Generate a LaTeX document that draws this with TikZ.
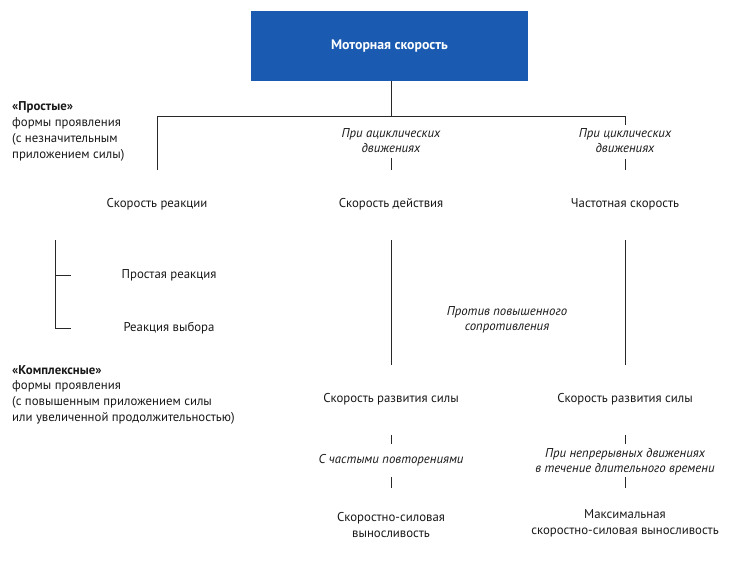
\documentclass[tikz,border=0pt]{standalone}
\usepackage{fontspec}
\setmainfont{PT Sans}
\definecolor{boxblue}{RGB}{26,90,176}
\definecolor{txt}{RGB}{25,25,25}
\definecolor{ln}{RGB}{40,40,40}
\begin{document}
\begin{tikzpicture}[x=1pt,y=-1pt,
  lbl/.style={inner sep=0pt,font=\fontsize{12.8}{15.8}\selectfont,text=txt,align=center},
  ital/.style={lbl,font=\fontsize{12.8}{15}\selectfont\itshape},
  side/.style={inner sep=0pt,font=\fontsize{12.8}{15.8}\selectfont,text=txt,align=left,anchor=north west},
  conn/.style={draw=ln,line width=0.8pt}]
\useasboundingbox (0,0) rectangle (744,564);
% top box
\node[fill=boxblue,minimum width=277pt,minimum height=70pt,inner sep=0pt,
  text=white,font=\fontsize{13.8}{16}\selectfont\bfseries] (top) at (389.5,46) {Моторная скорость};
% hub coordinates
\coordinate (hub) at (391,116);
\coordinate (hl) at (157,116);
\coordinate (hr) at (625,116);
\coordinate (l1) at (157,170);
\coordinate (mA) at (391,158);
\coordinate (mB) at (391,170);
\coordinate (rA) at (625,125);
\coordinate (rB) at (625,159);
\coordinate (rC) at (625,170);
\draw[conn] (top.south -| hub) -- (hub);
\draw[conn] (hl) -- (hr);
\draw[conn] (hl) -- (l1);
\draw[conn] (hr) -- (rA);
\draw[conn] (mA) -- (mB);
\draw[conn] (rB) -- (rC);
% italic branch labels
\node[ital] (acyc) at (391,141) {При ациклических\\движениях};
\node[ital] (cyc) at (625,141) {При циклических\\движениях};
% left annotations
\node[side] (simple) at (12,101.5) {\textbf{«Простые»}\\формы проявления\\(с незначительным\\приложением силы)};
\node[side] (complex) at (12,365) {\textbf{«Комплексные»}\\формы проявления\\(с повышенным приложением силы\\или увеличенной продолжительностью)};
% second row
\node[lbl] (react) at (157,204) {Скорость реакции};
\node[lbl] (action) at (391,204) {Скорость действия};
\node[lbl] (freq) at (625,204) {Частотная скорость};
% left bracket
\coordinate (bt) at (55,240);
\coordinate (b1) at (55,275);
\coordinate (b2) at (55,328);
\coordinate (t1) at (71,275);
\coordinate (t2) at (71,328);
\draw[conn] (bt) -- (b2) -- (t2);
\draw[conn] (b1) -- (t1);
\node[lbl] (simpleR) at (169,275) {Простая реакция};
\node[lbl] (choiceR) at (169,328) {Реакция выбора};
% long verticals
\coordinate (m2a) at (391,240);
\coordinate (m2b) at (391,365);
\coordinate (r2a) at (625,240);
\coordinate (r2b) at (625,365);
\draw[conn] (m2a) -- (m2b);
\draw[conn] (r2a) -- (r2b);
\node[ital] (resist) at (507,320) {Против повышенного\\сопротивления};
% third row
\node[lbl] (devM) at (391,399) {Скорость развития силы};
\node[lbl] (devR) at (625,399) {Скорость развития силы};
\coordinate (m3a) at (391,435);
\coordinate (m3b) at (391,444);
\coordinate (r3a) at (625,435);
\coordinate (r3b) at (625,444);
\draw[conn] (m3a) -- (m3b);
\draw[conn] (r3a) -- (r3b);
\node[ital] (freqrep) at (391,460) {С частыми повторениями};
\node[ital] (contin) at (625,461.5) {При непрерывных движениях\\в течение длительного времени};
\coordinate (m4a) at (391,477);
\coordinate (m4b) at (391,488);
\coordinate (r4a) at (625,477);
\coordinate (r4b) at (625,488);
\draw[conn] (m4a) -- (m4b);
\draw[conn] (r4a) -- (r4b);
% bottom row
\node[lbl] (endM) at (391,525) {Скоростно-силовая\\выносливость};
\node[lbl] (endR) at (625,523.5) {Максимальная\\скоростно-силовая выносливость};
\end{tikzpicture}
\end{document}
